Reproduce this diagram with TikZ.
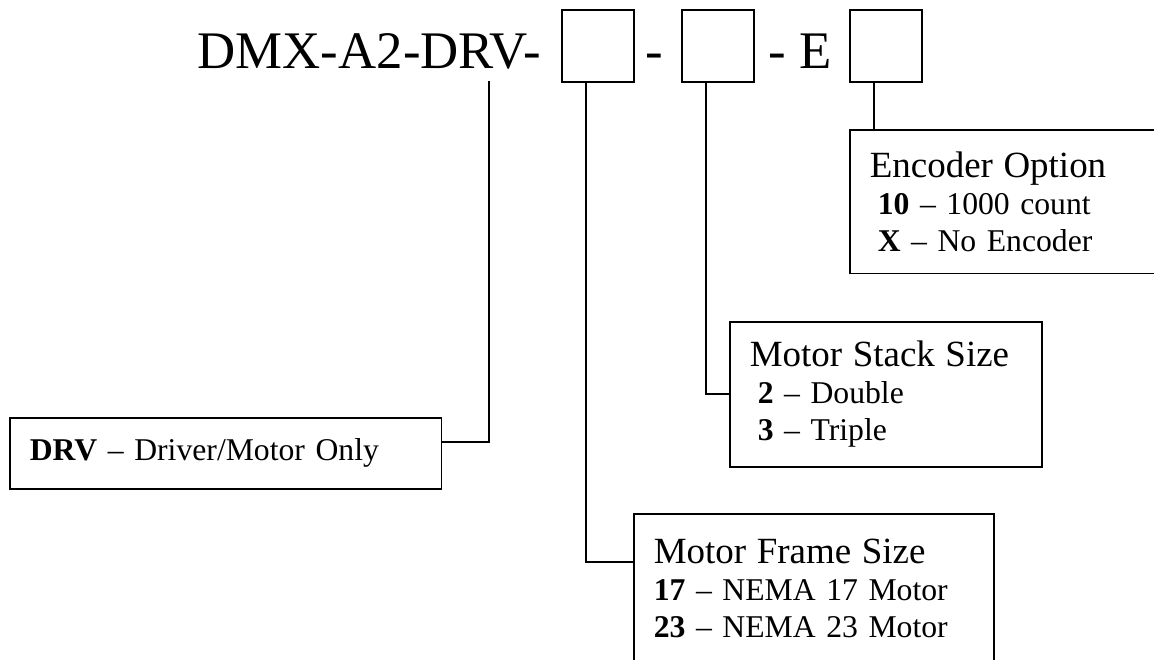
\documentclass[tikz,border=0pt]{standalone}
\usepackage{fontspec}
\setmainfont{Liberation Serif}
\newcommand{\headfont}{\fontsize{14}{14}\selectfont}

\begin{document}
\begin{tikzpicture}[
        x=0.3788pt, y=-0.3788pt,
        line width=0.6pt,
        slot/.style={rectangle, draw, minimum size=27.3pt, inner sep=0pt, anchor=north west},
        code/.style={anchor=base west, inner sep=0pt, font=\fontsize{20}{24}\selectfont},
        optbox/.style={rectangle, draw, align=left, anchor=north west, inner xsep=7.6pt, inner ysep=0pt, font=\fontsize{12}{14}\selectfont},
        line/.style={draw, line width=0.6pt}
    ]
        \useasboundingbox (0,0) rectangle (1154,660);
        \clip (0,0) rectangle (1154,660);

        % Part number
        \node [code] (model) at (197,69) {DMX-A2-DRV-};
        \node [slot] (slotframe) at (561,9) {};
        \node [code] (dasha) at (645,69) {-};
        \node [slot] (slotstack) at (681,9) {};
        \node [code] (dashb) at (768,69) {- E};
        \node [slot] (slotenc) at (849,9) {};
        \coordinate (drvtick) at (489,81);

        % Option boxes
        \node [optbox, text width=106.4pt, minimum height=54.5pt] (encbox) at (849,129) {{\headfont Encoder Option}\\\hspace*{.25em}\textbf{10} -- 1000 count\\\hspace*{.25em}\textbf{X} -- No Encoder};
        \node [optbox, text width=103pt, minimum height=54.9pt] (stackbox) at (729,321) {{\headfont Motor Stack Size}\\\hspace*{.25em}\textbf{2} -- Double\\\hspace*{.25em}\textbf{3} -- Triple};
        \node [optbox, text width=121.2pt, minimum height=56.4pt] (framebox) at (633,513) {{\headfont Motor Frame Size}\\\textbf{17} -- NEMA 17 Motor\\\textbf{23} -- NEMA 23 Motor};
        \node [optbox, text width=148.4pt, minimum height=26.9pt] (drvbox) at (9,417) {\textbf{DRV} -- Driver/Motor Only};

        % Connectors
        \path [line] (drvtick) |- ([yshift=4.2pt]drvbox.east);
        \path [line] ([xshift=-4.5pt]slotframe.south) |- (framebox.west |- 0,562);
        \path [line] ([xshift=-4.5pt]slotstack.south) |- (stackbox.west);
        \path [line] ([xshift=-4.5pt]slotenc.south) -- ([xshift=-4.5pt]slotenc.south |- encbox.north);
\end{tikzpicture}
\end{document}
